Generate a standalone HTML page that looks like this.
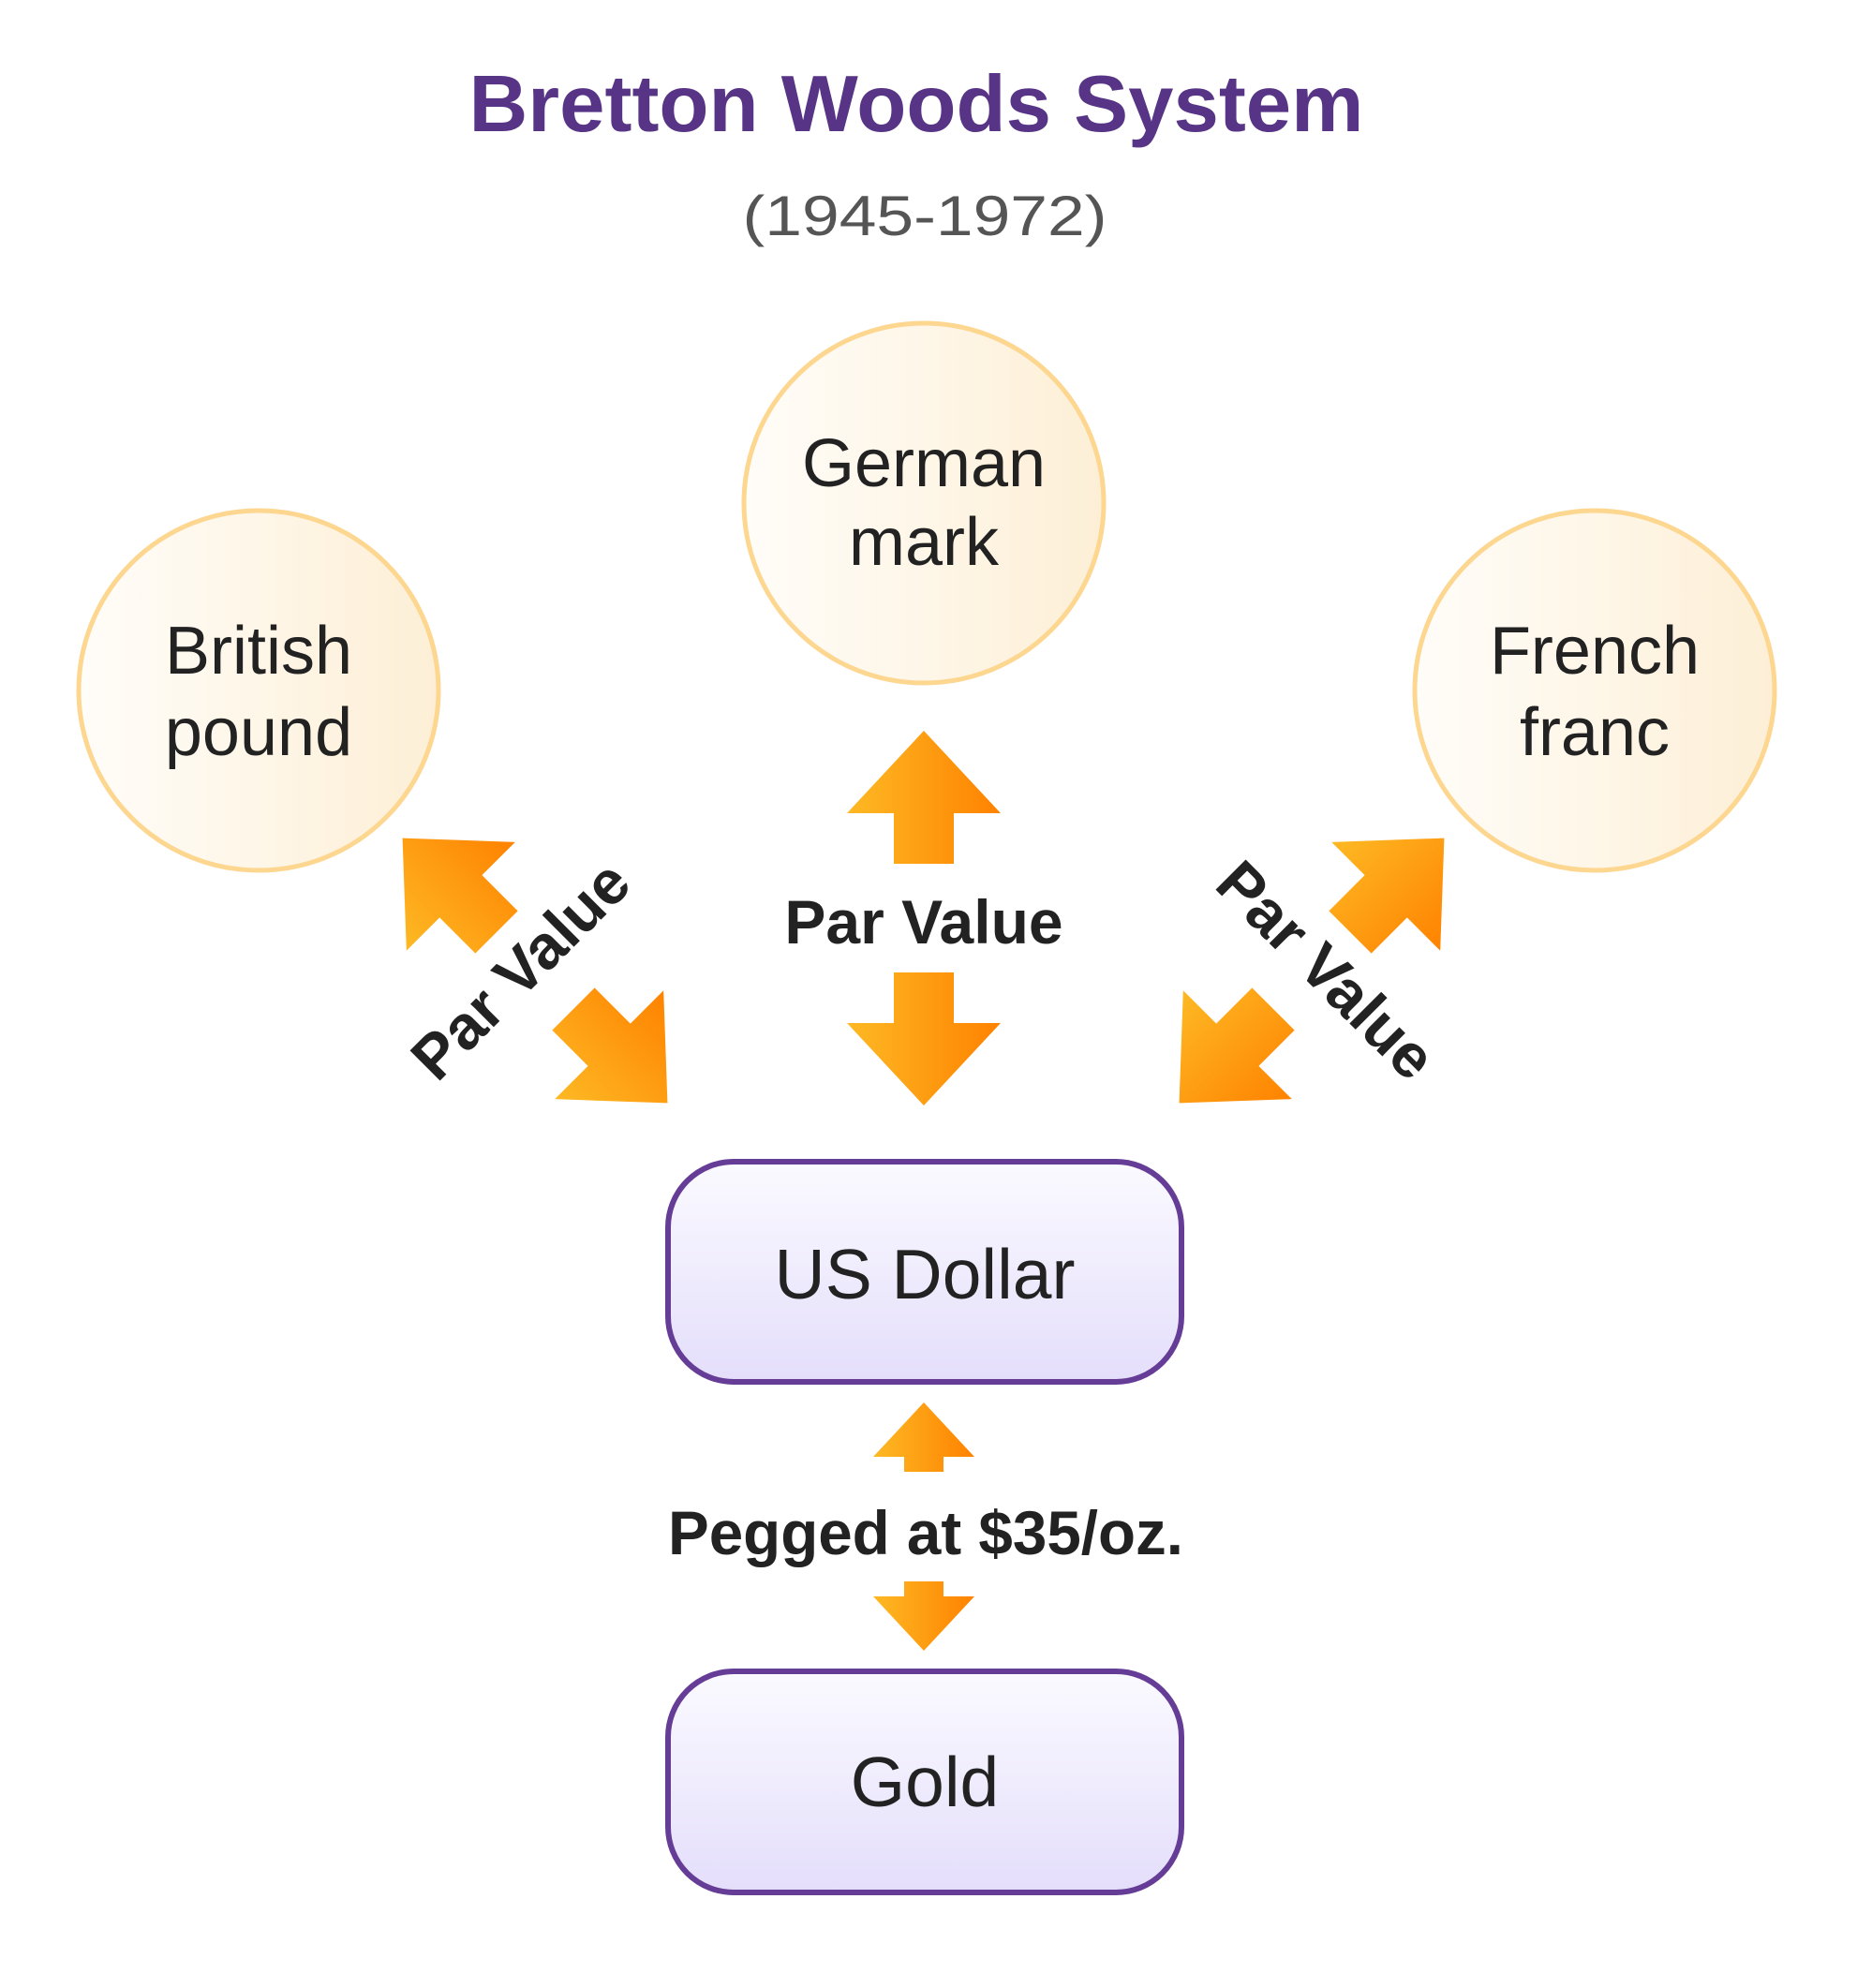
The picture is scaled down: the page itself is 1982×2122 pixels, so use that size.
<!DOCTYPE html>
<html><head><meta charset="utf-8"><style>
html,body{margin:0;padding:0;background:#fff;}
svg{display:block;font-family:"Liberation Sans",sans-serif;}
</style></head><body>
<svg width="1982" height="2122" viewBox="0 0 1982 2122" xmlns="http://www.w3.org/2000/svg">
<defs>
<linearGradient id="cg" x1="0" y1="0" x2="1" y2="0"><stop offset="0" stop-color="#fffdf9"/><stop offset="1" stop-color="#fdefd6"/></linearGradient>
<linearGradient id="bg" x1="0" y1="0" x2="0" y2="1"><stop offset="0" stop-color="#fbfaff"/><stop offset="1" stop-color="#e4defb"/></linearGradient>
<linearGradient id="og" x1="0" y1="0" x2="1" y2="0"><stop offset="0" stop-color="#fdb924"/><stop offset="1" stop-color="#ff8200"/></linearGradient>
<g id="arr">
<polygon fill="url(#og)" points="0,-200 82,-112 32,-112 32,-58 -32,-58 -32,-112 -82,-112"/>
<polygon fill="url(#og)" points="0,200 82,112 32,112 32,58 -32,58 -32,112 -82,112"/>
</g>
</defs>
<text x="978" y="140" text-anchor="middle" font-size="85" font-weight="bold" fill="#583486" textLength="955" lengthAdjust="spacingAndGlyphs">Bretton Woods System</text>
<text x="987" y="251" text-anchor="middle" font-size="60" fill="#555" textLength="389" lengthAdjust="spacingAndGlyphs">(1945-1972)</text>

<circle cx="986" cy="537" r="192" fill="url(#cg)" stroke="#fdd690" stroke-width="5"/>
<circle cx="276" cy="737" r="192" fill="url(#cg)" stroke="#fdd690" stroke-width="5"/>
<circle cx="1702" cy="737" r="192" fill="url(#cg)" stroke="#fdd690" stroke-width="5"/>
<g font-size="72" fill="#222" text-anchor="middle">
<text x="986" y="519">German</text><text x="986" y="603">mark</text>
<text x="276" y="719">British</text><text x="276" y="806">pound</text>
<text x="1702" y="719">French</text><text x="1702" y="806">franc</text>
</g>

<use href="#arr" transform="translate(986,980)"/>
<use href="#arr" transform="translate(571,1036) rotate(-45)"/>
<use href="#arr" transform="translate(1400,1036) rotate(45)"/>
<g font-size="66" font-weight="bold" fill="#222" text-anchor="middle">
<text x="986" y="1007">Par Value</text>
<text transform="translate(556,1036) rotate(-45)" x="0" y="22">Par Value</text>
<text transform="translate(1415,1036) rotate(45)" x="0" y="22">Par Value</text>
</g>

<rect x="713" y="1240" width="548" height="235" rx="70" fill="url(#bg)" stroke="#653c96" stroke-width="6"/>
<text x="987" y="1386" text-anchor="middle" font-size="75" fill="#222">US Dollar</text>

<polygon fill="url(#og)" points="986,1497 1040,1555 1007,1555 1007,1571 965,1571 965,1555 932,1555"/>
<text x="988" y="1659" text-anchor="middle" font-size="66" font-weight="bold" fill="#222" textLength="550" lengthAdjust="spacingAndGlyphs">Pegged at $35/oz.</text>
<polygon fill="url(#og)" points="986,1762 1040,1704 1007,1704 1007,1688 965,1688 965,1704 932,1704"/>

<rect x="713" y="1784" width="548" height="236" rx="70" fill="url(#bg)" stroke="#653c96" stroke-width="6"/>
<text x="987" y="1928" text-anchor="middle" font-size="75" fill="#222">Gold</text>
</svg>
</body></html>
